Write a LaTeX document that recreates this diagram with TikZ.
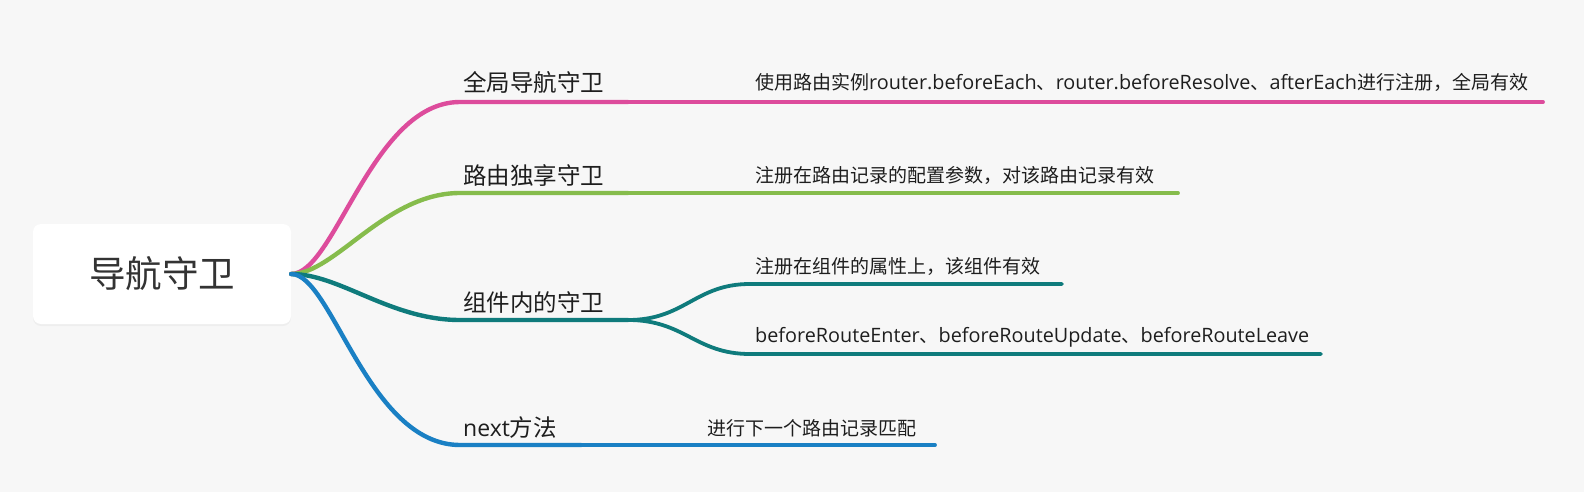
\documentclass[tikz,border=0pt]{standalone}
\usepackage{fontspec}
\setmainfont{Noto Sans CJK SC}
\newfontfamily\lat{Open Sans}
\usetikzlibrary{shadows}
\definecolor{bg}{HTML}{F7F7F7}
\definecolor{cpink}{HTML}{DD4C9C}
\definecolor{cgreen}{HTML}{86BC4C}
\definecolor{cteal}{HTML}{0F7B7C}
\definecolor{cblue}{HTML}{1A80C4}
\definecolor{txt}{HTML}{1E1E1E}
\definecolor{roottxt}{HTML}{333333}
\tikzset{
  rootbox/.style={draw=none, fill=white, rounded corners=8pt, minimum width=258pt, minimum height=100pt,
    inner sep=0pt, text=roottxt, font=\fontsize{36.5}{42}\selectfont,
    drop shadow={opacity=0.07, shadow xshift=0pt, shadow yshift=-2pt}},
  lbl/.style={anchor=base west, inner sep=0pt, text=txt, font=\fontsize{23.5}{28}\selectfont},
  ctext/.style={anchor=base west, inner sep=0pt, text=txt, font=\fontsize{19}{23}\selectfont},
  mainline/.style={line width=4.4pt, line cap=round},
  childline/.style={line width=3.8pt, line cap=round},
}
\newcommand{\lt}[1]{{\lat\fontsize{19.8}{23}\selectfont #1}}
\begin{document}
\begin{tikzpicture}[x=1pt,y=-1pt]
\fill[bg] (0,0) rectangle (1584,492);
\useasboundingbox (0,0) rectangle (1584,492);

\node[rootbox] (root) at (162,274) {导航守卫};

% branch 1
\coordinate (a1) at (460,102);
\coordinate (e1) at (628,102);
\coordinate (f1) at (1543,102);
\node[lbl] (t1) at (463,92) {全局导航守卫};
\node[ctext] (d1) at (755,90) {使用路由实例\lt{router.beforeEach}、\lt{router.beforeResolve}、\lt{afterEach}进行注册，全局有效};
\draw[mainline, cpink] (root.east) .. controls (335,274) and (372,102) .. (a1) -- (e1);
\draw[childline, cpink] (e1) -- (f1);

% branch 2
\coordinate (a2) at (460,193);
\coordinate (e2) at (628,193);
\coordinate (f2) at (1178,193);
\node[lbl] (t2) at (463,184) {路由独享守卫};
\node[ctext] (d2) at (755,182) {注册在路由记录的配置参数，对该路由记录有效};
\draw[mainline, cgreen] (root.east) .. controls (335,274) and (385,193) .. (a2) -- (e2);
\draw[childline, cgreen] (e2) -- (f2);

% branch 3
\coordinate (a3) at (460,320);
\coordinate (e3) at (628,320);
\coordinate (s1) at (750,284);
\coordinate (g1) at (1062,284);
\coordinate (s2) at (750,354);
\coordinate (g2) at (1321,354);
\node[lbl] (t3) at (463,311) {组件内的守卫};
\node[ctext] (d3) at (755,273) {注册在组件的属性上，该组件有效};
\node[ctext] (d4) at (755,342) {\lt{beforeRouteEnter}、\lt{beforeRouteUpdate}、\lt{beforeRouteLeave}};
\draw[mainline, cteal] (root.east) .. controls (340,274) and (390,320) .. (a3) -- (e3);
\draw[childline, cteal] (e3) .. controls (685,320) and (695,284) .. (s1) -- (g1);
\draw[childline, cteal] (e3) .. controls (685,320) and (695,354) .. (s2) -- (g2);

% branch 4
\coordinate (a4) at (460,445);
\coordinate (e4) at (581,445);
\coordinate (f4) at (935,445);
\node[lbl] (t4) at (463,436) {{\lat\fontsize{23}{28}\selectfont next}方法};
\node[ctext] (d5) at (707,435) {进行下一个路由记录匹配};
\draw[mainline, cblue] (root.east) .. controls (332,274) and (368,445) .. (a4) -- (e4);
\draw[childline, cblue] (e4) -- (f4);
\end{tikzpicture}
\end{document}
